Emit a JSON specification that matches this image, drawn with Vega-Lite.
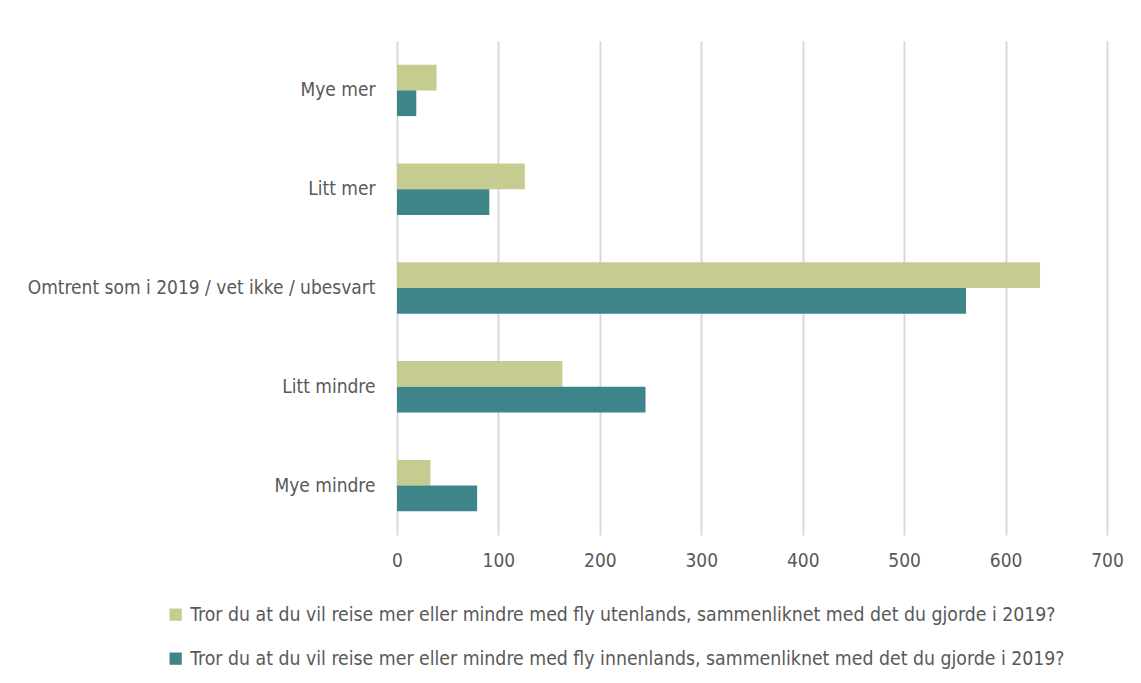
{
  "$schema": "https://vega.github.io/schema/vega-lite/v6.json",
  "autosize": "none",
  "width": 710,
  "height": 494,
  "padding": {"left": 397, "top": 41, "right": 34, "bottom": 148},
  "background": "white",
  "config": {
    "view": {"stroke": null},
    "font": "DejaVu Sans Condensed, Liberation Sans, sans-serif",
    "axis": {"labelFont": "DejaVu Sans Condensed, Liberation Sans, sans-serif", "labelColor": "#595959", "labelFontSize": 19}
  },
  "data": {
    "values": [
      {"kategori": "Mye mer", "serie": "utenlands", "antall": 39},
      {"kategori": "Mye mer", "serie": "innenlands", "antall": 19},
      {"kategori": "Litt mer", "serie": "utenlands", "antall": 126},
      {"kategori": "Litt mer", "serie": "innenlands", "antall": 91},
      {"kategori": "Omtrent som i 2019 / vet ikke / ubesvart", "serie": "utenlands", "antall": 634},
      {"kategori": "Omtrent som i 2019 / vet ikke / ubesvart", "serie": "innenlands", "antall": 561},
      {"kategori": "Litt mindre", "serie": "utenlands", "antall": 163},
      {"kategori": "Litt mindre", "serie": "innenlands", "antall": 245},
      {"kategori": "Mye mindre", "serie": "utenlands", "antall": 33},
      {"kategori": "Mye mindre", "serie": "innenlands", "antall": 79}
    ]
  },
  "mark": {"type": "bar"},
  "encoding": {
    "y": {
      "field": "kategori",
      "type": "nominal",
      "sort": ["Mye mer", "Litt mer", "Omtrent som i 2019 / vet ikke / ubesvart", "Litt mindre", "Mye mindre"],
      "scale": {"paddingInner": 0.48, "paddingOuter": 0.24},
      "axis": {"title": null, "ticks": false, "domain": false, "labelPadding": 22, "labelLimit": 0, "grid": false}
    },
    "yOffset": {
      "field": "serie",
      "type": "nominal",
      "sort": ["utenlands", "innenlands"],
      "scale": {"paddingInner": 0, "paddingOuter": 0}
    },
    "x": {
      "field": "antall",
      "type": "quantitative",
      "scale": {"domain": [0, 700], "nice": false},
      "axis": {
        "title": null,
        "values": [0, 100, 200, 300, 400, 500, 600, 700],
        "ticks": false,
        "domain": false,
        "grid": true,
        "gridColor": "#d9d9d9",
        "gridWidth": 2,
        "labelPadding": 16,
        "labelFlush": false
      }
    },
    "color": {
      "field": "serie",
      "type": "nominal",
      "sort": ["utenlands", "innenlands"],
      "scale": {"domain": ["utenlands", "innenlands"], "range": ["#c6cc8f", "#3e858a"]},
      "legend": {
        "title": null,
        "orient": "none",
        "legendX": -231,
        "legendY": 564,
        "direction": "vertical",
        "symbolType": "square",
        "symbolSize": 150,
        "symbolStrokeWidth": 0,
        "labelFont": "DejaVu Sans Condensed, Liberation Sans, sans-serif",
        "labelFontSize": 19.3,
        "labelColor": "#595959",
        "labelLimit": 0,
        "labelOffset": 5,
        "rowPadding": 24,
        "labelExpr": "datum.label == 'utenlands' ? 'Tror du at du vil reise mer eller mindre med fly utenlands, sammenliknet med det du gjorde i 2019?' : 'Tror du at du vil reise mer eller mindre med fly innenlands, sammenliknet med det du gjorde i 2019?'"
      }
    }
  }
}
